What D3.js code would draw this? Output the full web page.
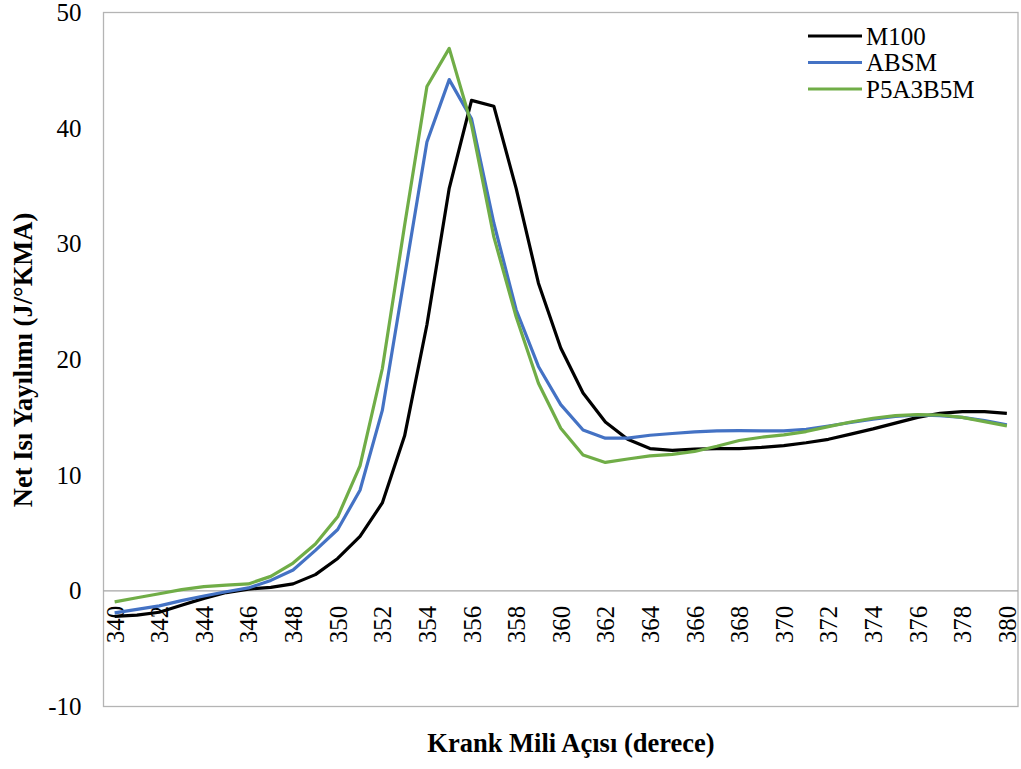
<!DOCTYPE html>
<html>
<head>
<meta charset="utf-8">
<script src="https://cdn.jsdelivr.net/npm/d3@7"></script>
<style>
  html, body { margin: 0; padding: 0; background: #fff; }
  svg { display: block; font-family: "Liberation Serif", "Times New Roman", serif; }
</style>
</head>
<body>
<svg id="chart" width="1021" height="769"></svg>
<script>
// Crank angle (degrees)
const angles = [340, 341, 342, 343, 344, 345, 346, 347, 348, 349, 350,
                351, 352, 353, 354, 355, 356, 357, 358, 359, 360,
                361, 362, 363, 364, 365, 366, 367, 368, 369, 370,
                371, 372, 373, 374, 375, 376, 377, 378, 379, 380];

// Net heat release (J/°KMA) per fuel
const m100 = [-2.2, -2.1, -1.85, -1.25, -0.65, -0.15, 0.15, 0.3, 0.6, 1.4, 2.8,
              4.7, 7.6, 13.4, 23.0, 34.8, 42.4, 41.9, 34.8, 26.6, 21.0,
              17.1, 14.6, 13.1, 12.3, 12.15, 12.25, 12.3, 12.3, 12.4, 12.55,
              12.8, 13.1, 13.55, 14.0, 14.5, 15.0, 15.35, 15.5, 15.5, 15.35];
const absm = [-1.9, -1.6, -1.3, -0.85, -0.45, -0.08, 0.25, 0.9, 1.8, 3.5, 5.3,
              8.7, 15.6, 27.2, 38.8, 44.2, 40.8, 31.8, 24.3, 19.4, 16.1,
              13.9, 13.2, 13.2, 13.45, 13.6, 13.75, 13.83, 13.85, 13.83, 13.83,
              13.97, 14.25, 14.55, 14.85, 15.07, 15.2, 15.15, 15.0, 14.72, 14.35];
const p5a3b5m = [-0.95, -0.6, -0.25, 0.1, 0.37, 0.5, 0.6, 1.25, 2.4, 4.05, 6.4,
                 10.8, 19.2, 31.6, 43.6, 46.9, 40.3, 30.6, 23.7, 17.95, 14.05,
                 11.75, 11.1, 11.4, 11.67, 11.8, 12.05, 12.5, 13.0, 13.28, 13.48,
                 13.77, 14.2, 14.6, 14.92, 15.15, 15.24, 15.2, 15.0, 14.63, 14.26];

const yTicks = [-10, 0, 10, 20, 30, 40, 50];

const seriesNames = ["M100", "ABSM", "P5A3B5M"];
const seriesValues = [m100, absm, p5a3b5m];
const seriesColors = ["#000000", "#4472C4", "#70AD47"];

const svg = d3.select("#chart");
const plot = { left: 103.5, right: 1018, top: 12.5, bottom: 706.5 };

const x = d3.scalePoint()
  .domain(angles)
  .range([plot.left, plot.right])
  .padding(0.5);

const y = d3.scaleLinear()
  .domain([-10, 50])
  .range([plot.bottom, plot.top]);

// Plot area frame
svg.append("rect")
  .attr("x", plot.left).attr("y", plot.top)
  .attr("width", plot.right - plot.left)
  .attr("height", plot.bottom - plot.top)
  .attr("fill", "none")
  .attr("stroke", "#b4b4b4")
  .attr("stroke-width", 1.3);

// Zero baseline
svg.append("line")
  .attr("x1", plot.left).attr("x2", plot.right)
  .attr("y1", y(0)).attr("y2", y(0))
  .attr("stroke", "#a6a6a6")
  .attr("stroke-width", 1.3);

// Y axis labels (plain hyphen for negatives)
const yAxis = d3.axisLeft(y)
  .tickValues(yTicks)
  .tickFormat(d => String(d))
  .tickSize(0)
  .tickPadding(22);
const yG = svg.append("g")
  .attr("transform", `translate(${plot.left},0)`)
  .call(yAxis);
yG.select(".domain").remove();
yG.selectAll("text")
  .attr("font-family", "Liberation Serif, Times New Roman, serif")
  .attr("font-size", 25)
  .attr("fill", "#000");

// X axis labels, rotated, hanging under the zero line
const xAxis = d3.axisBottom(x).tickSize(0);
const xG = svg.append("g")
  .attr("transform", `translate(0,${y(0)})`)
  .call(xAxis);
xG.select(".domain").remove();
xG.selectAll("text")
  .attr("font-family", "Liberation Serif, Times New Roman, serif")
  .attr("font-size", 25)
  .attr("fill", "#000")
  .attr("text-anchor", "end")
  .attr("dy", null)
  .attr("y", 0)
  .attr("dominant-baseline", "central")
  .attr("transform", "translate(0,15) rotate(-90)")
  .text((d, i) => (i % 2 === 0) ? d : "");

// Series lines
const line = d3.line()
  .x((d, i) => x(angles[i]))
  .y(d => y(d));

seriesValues.forEach((vals, k) => {
  svg.append("path")
    .datum(vals)
    .attr("d", line)
    .attr("fill", "none")
    .attr("stroke", seriesColors[k])
    .attr("stroke-width", 3.2)
    .attr("stroke-linejoin", "round");
});

// Legend
const legend = svg.append("g").attr("transform", "translate(808,36)");
seriesNames.forEach((name, k) => {
  const g = legend.append("g").attr("transform", `translate(0,${k * 26.5})`);
  g.append("line")
    .attr("x1", 0).attr("x2", 54)
    .attr("y1", 0).attr("y2", 0)
    .attr("stroke", seriesColors[k])
    .attr("stroke-width", 3.2);
  g.append("text")
    .attr("x", 58).attr("y", 0)
    .attr("dy", "0.35em")
    .attr("font-size", 25)
    .attr("fill", "#000")
    .text(name);
});

// Axis titles
svg.append("text")
  .attr("x", 571).attr("y", 743)
  .attr("text-anchor", "middle")
  .attr("dominant-baseline", "central")
  .attr("font-weight", "bold")
  .attr("font-size", 26.5)
  .attr("fill", "#000")
  .text("Krank Mili Açısı (derece)");

svg.append("text")
  .attr("transform", "translate(23,360) rotate(-90)")
  .attr("text-anchor", "middle")
  .attr("dominant-baseline", "central")
  .attr("font-weight", "bold")
  .attr("font-size", 26.5)
  .attr("fill", "#000")
  .text("Net Isı Yayılımı (J/°KMA)");
</script>
</body>
</html>
